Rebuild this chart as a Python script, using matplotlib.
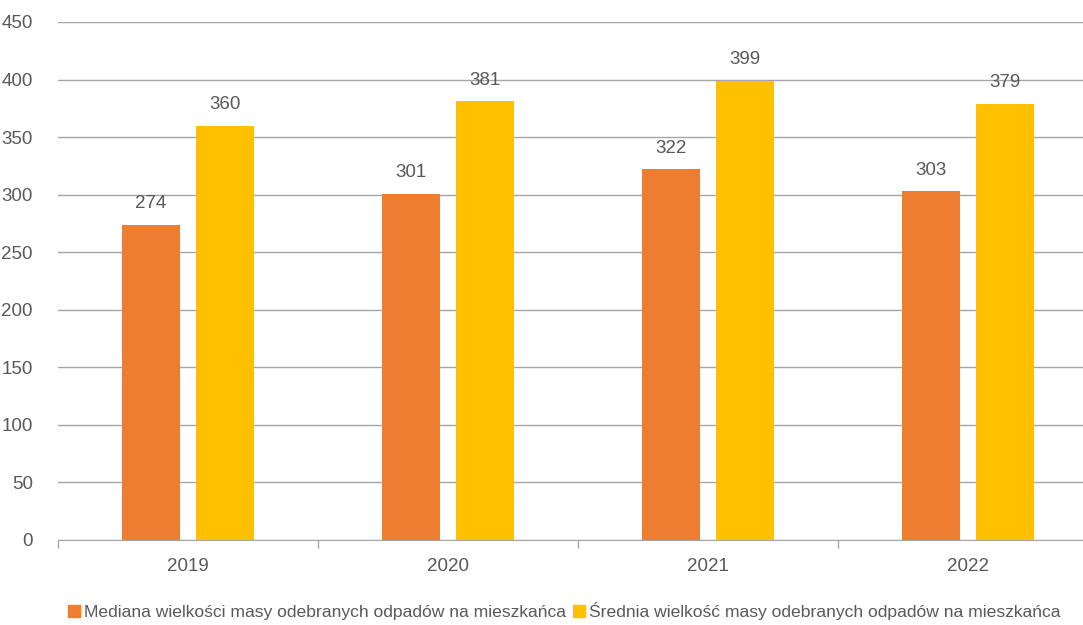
import matplotlib.pyplot as plt
import numpy as np
from matplotlib.patches import Patch

plt.rcParams['font.family'] = ['Liberation Sans', 'DejaVu Sans']

years = ['2019', '2020', '2021', '2022']
median_mass = [274, 301, 322, 303]
mean_mass = [360, 381, 399, 379]
series_names = ['Mediana wielkości masy odebranych odpadów na mieszkańca',
                'Średnia wielkość masy odebranych odpadów na mieszkańca']
colors = ['#ED7D31', '#FFC000']
text_color = '#595959'

fig = plt.figure(figsize=(10.83, 6.25), dpi=100)
ax = fig.add_axes([58 / 1083, 85 / 625, 1040 / 1083, 518 / 625])

x = np.arange(len(years))
offset = 0.142
width = 0.223
b1 = ax.bar(x - offset, median_mass, width, color=colors[0], zorder=3)
b2 = ax.bar(x + offset, mean_mass, width, color=colors[1], zorder=3)

for bars in (b1, b2):
    for rect in bars:
        h = rect.get_height()
        ax.text(rect.get_x() + rect.get_width() / 2, h + 11, f'{h:.0f}',
                ha='center', va='bottom', fontsize=13.5, color=text_color)

ax.set_xlim(-0.5, len(years) - 0.5)
ax.set_ylim(0, 450)
ax.set_yticks(np.arange(0, 451, 50))
ax.yaxis.grid(True, color='#A6A6A6', linewidth=1, zorder=0)
ax.set_axisbelow(True)

ax.set_xticks(x)
ax.set_xticklabels(years)
ax.set_xticks(np.arange(-0.5, len(years), 1), minor=True)
ax.tick_params(axis='x', which='major', length=0, pad=13,
               labelsize=13.5, labelcolor=text_color)
ax.tick_params(axis='x', which='minor', length=6, color='#A6A6A6', width=1)
ax.tick_params(axis='y', length=0, pad=18, labelsize=13.5, labelcolor=text_color)

for side in ('top', 'right', 'left'):
    ax.spines[side].set_visible(False)
ax.spines['bottom'].set_color('#A6A6A6')

handles = [Patch(color=c, label=n) for c, n in zip(colors, series_names)]
fig.legend(handles=handles, loc='center', bbox_to_anchor=(0.521, 0.022),
           ncol=2, frameon=False, fontsize=12.6, labelcolor=text_color,
           handlelength=0.7, handleheight=0.7, handletextpad=0.25,
           columnspacing=0.35)

fig.savefig('out.png', dpi=100)
